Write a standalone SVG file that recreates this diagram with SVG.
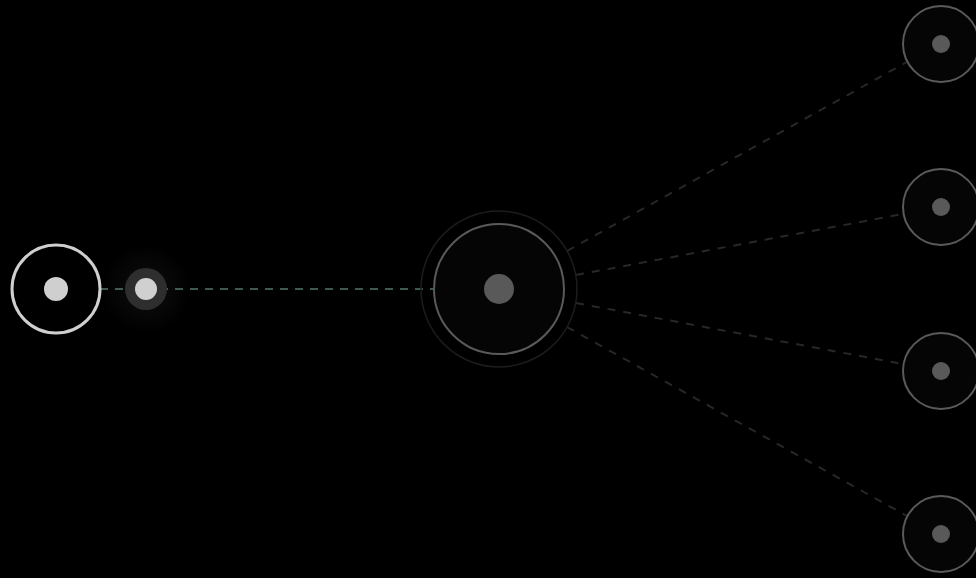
<svg xmlns="http://www.w3.org/2000/svg" width="976" height="578" viewBox="0 0 976 578">
<defs>
<radialGradient id="halo" cx="0.5" cy="0.5" r="0.5">
<stop offset="0" stop-color="#ffffff" stop-opacity="0.06"/>
<stop offset="1" stop-color="#ffffff" stop-opacity="0"/>
</radialGradient>
<style>
.ring{fill:#050505;stroke:#5a5a5a;stroke-width:2}
.dot{fill:#595959}
.link{stroke:#272727;stroke-width:2;stroke-dasharray:8 8;fill:none}
.main{stroke:#3c5a52;stroke-width:2;stroke-dasharray:8 7;fill:none}
</style>
</defs>
<rect width="976" height="578" fill="#000"/>
<g id="connectors">
<line class="main" x1="100" y1="289" x2="433" y2="289"/>
<line class="link" x1="567" y1="251" x2="907" y2="62"/>
<line class="link" x1="576" y1="275" x2="903" y2="214"/>
<line class="link" x1="576" y1="303" x2="903" y2="364"/>
<line class="link" x1="567" y1="327" x2="907" y2="516"/>
</g>
<g id="source">
<circle cx="56" cy="289" r="44" fill="#000" stroke="#cfcfcf" stroke-width="3"/>
<circle cx="56" cy="289" r="12" fill="#cfcfcf"/>
</g>
<g id="packet">
<circle cx="146" cy="289" r="45" fill="url(#halo)"/>
<circle cx="146" cy="289" r="21" fill="#2e2e2e"/>
<circle cx="146" cy="289" r="11" fill="#d0d0d0"/>
</g>
<g id="hub">
<circle cx="499" cy="289" r="78" fill="none" stroke="#1c1c1c" stroke-width="1.5"/>
<circle cx="499" cy="289" r="65" class="ring"/>
<circle cx="499" cy="289" r="15" class="dot"/>
</g>
<g id="target1">
<circle cx="941" cy="44" r="38" class="ring"/>
<circle cx="941" cy="44" r="9" class="dot"/>
</g>
<g id="target2">
<circle cx="941" cy="207" r="38" class="ring"/>
<circle cx="941" cy="207" r="9" class="dot"/>
</g>
<g id="target3">
<circle cx="941" cy="371" r="38" class="ring"/>
<circle cx="941" cy="371" r="9" class="dot"/>
</g>
<g id="target4">
<circle cx="941" cy="534" r="38" class="ring"/>
<circle cx="941" cy="534" r="9" class="dot"/>
</g>
</svg>
